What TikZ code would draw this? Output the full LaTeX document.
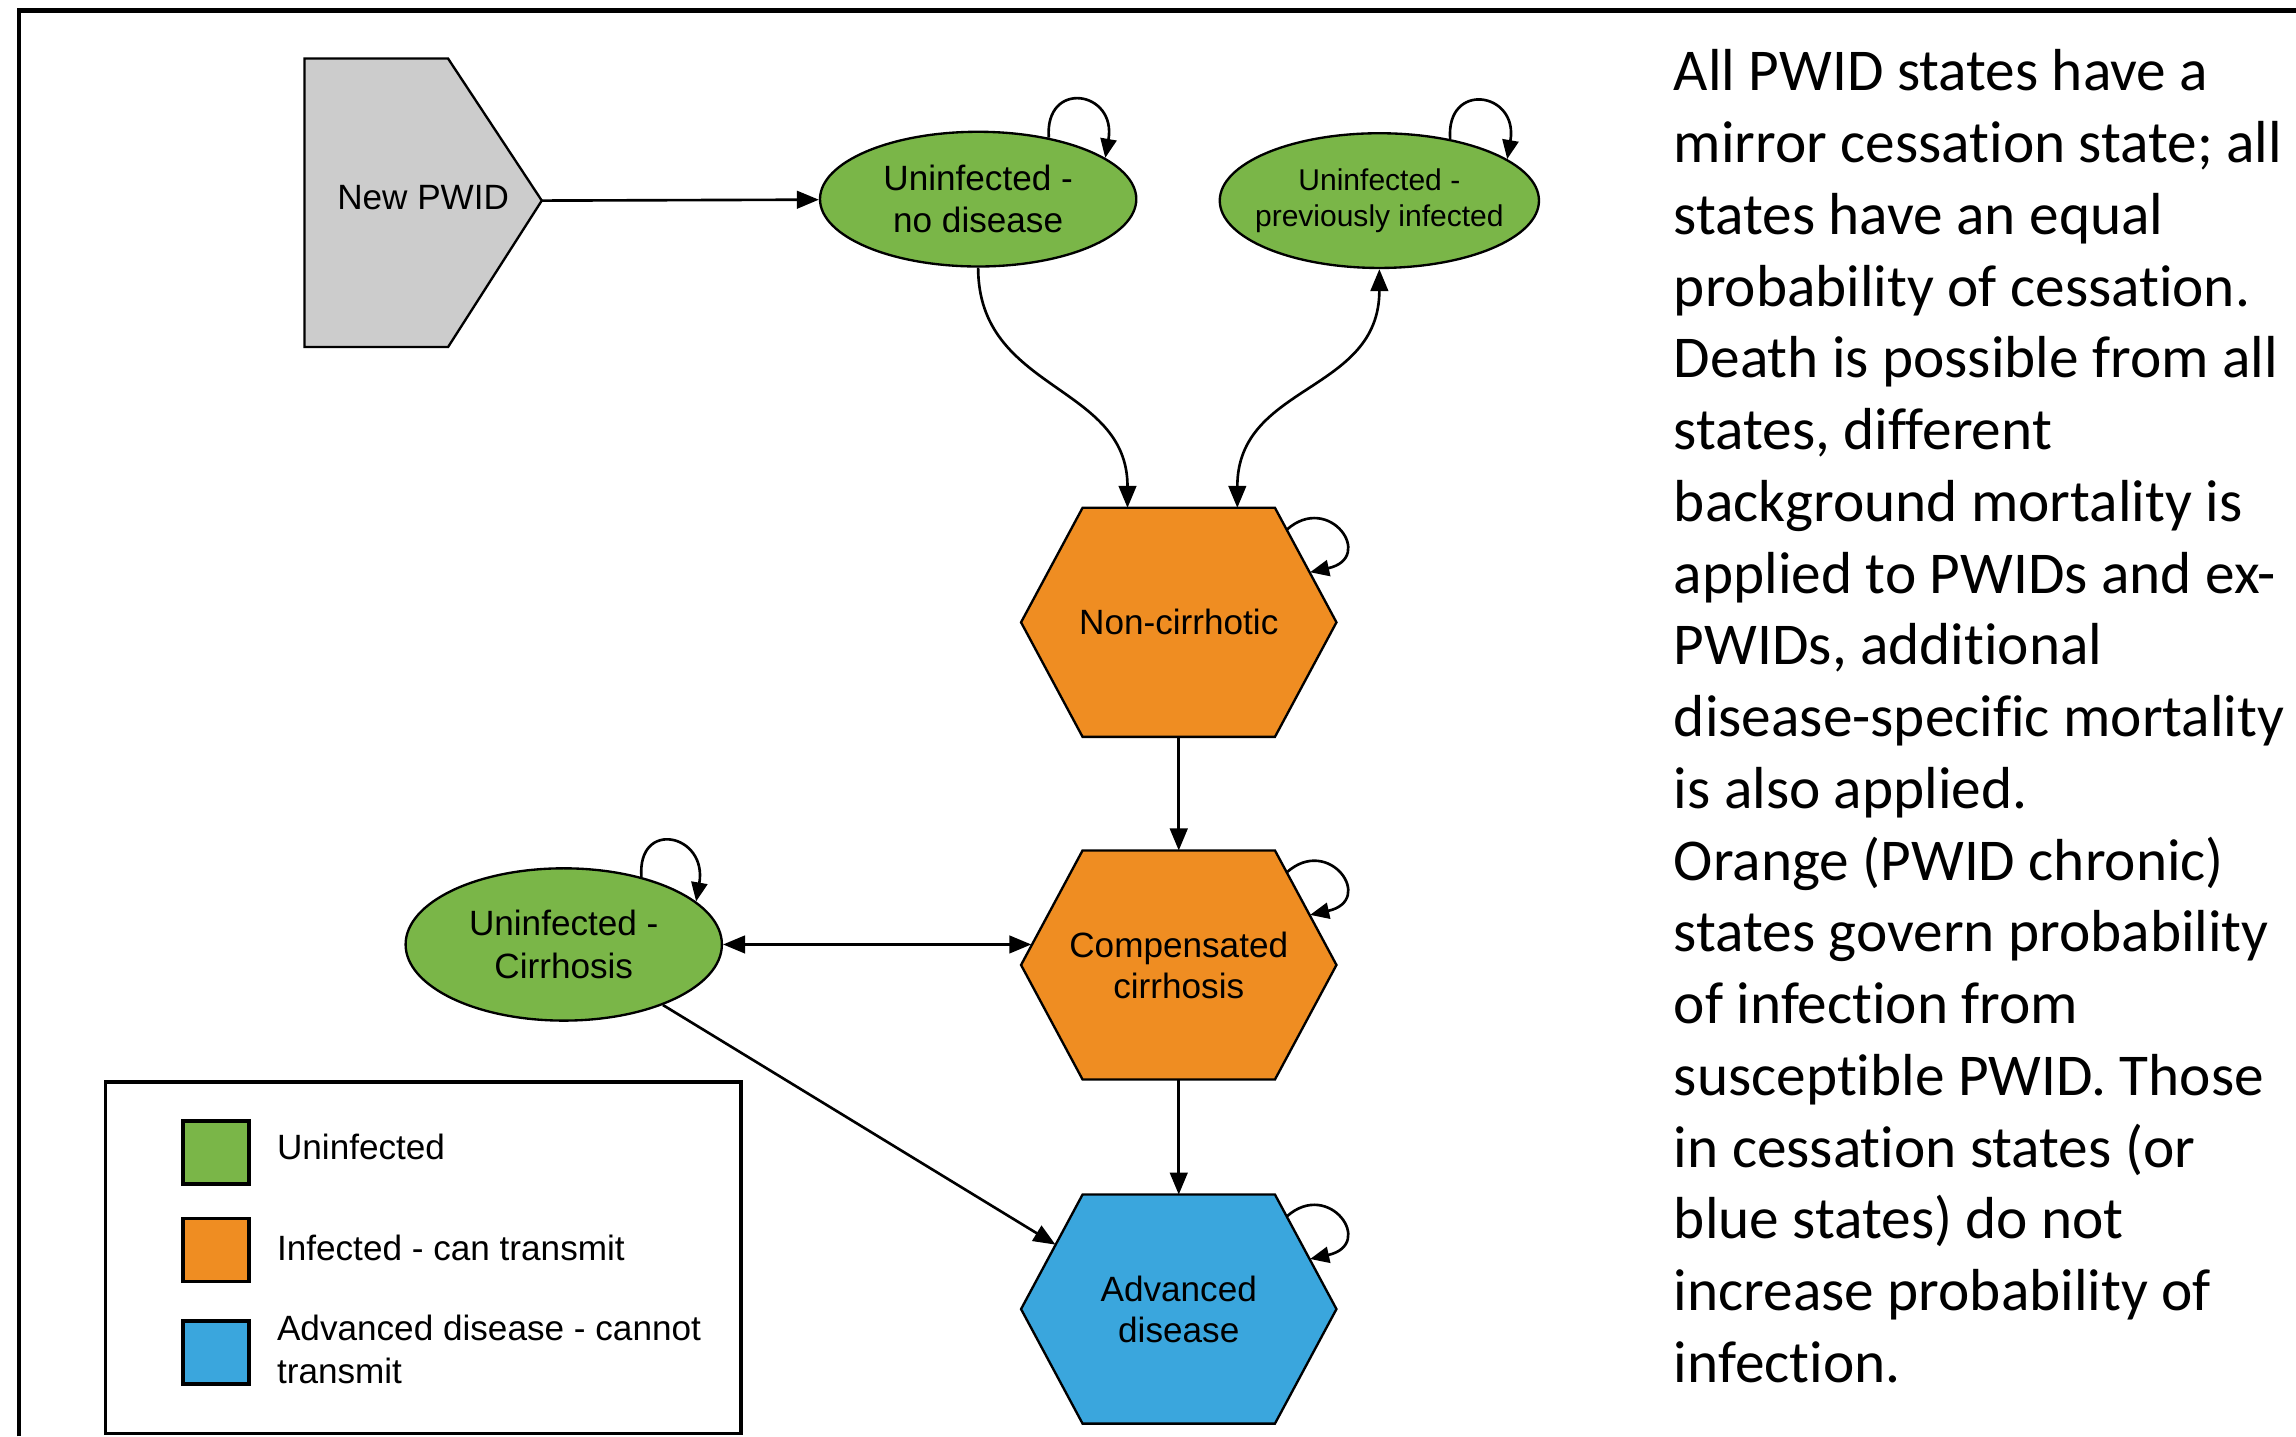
\documentclass[tikz,border=0pt]{standalone}
\usepackage{fontspec}
\setmainfont{Liberation Sans}
\newfontfamily\calfont[RawFeature={-liga}]{Carlito}
\usetikzlibrary{arrows.meta,calc,shapes.geometric}
\definecolor{lgreen}{HTML}{7AB648}
\definecolor{lorange}{HTML}{EF8D22}
\definecolor{lblue}{HTML}{3AA6DD}
\definecolor{lgray}{HTML}{CCCCCC}
\newcommand\hexstate[5]{%
  \node[hexbox] (#1) at (#2,#3) {};
  \filldraw[fill=#4, shapeline] (#1.west) -- ($(#1.north west)+(42,0)$) -- ($(#1.north east)+(-42,0)$) -- (#1.east) -- ($(#1.south east)+(-42,0)$) -- ($(#1.south west)+(42,0)$) -- cycle;
  \node[stext] (#1-t) at (#1) {#5};
}
\newcommand\hexloop[1]{%
  \draw[conn, looptip] ($(#1.north east)+(-34,15)$) .. controls +(29,-26) and +(45,-10) .. ($(#1.north east)+(-18,44)$);
}
\newcommand\elloop[1]{%
  \draw[conn, looptip] (#1.41) .. controls +(-3,-40) and +(8,-46) .. (#1.18);
}
\begin{document}
\begin{tikzpicture}[x=1pt,y=-1pt,
  shapeline/.style={draw=black, line width=1.6pt},
  conn/.style={draw=black, line width=1.8pt},
  maintip/.style={-{Triangle[length=15pt,width=12pt]}},
  bothtip/.style={{Triangle[length=15pt,width=12pt]}-{Triangle[length=15pt,width=12pt]}},
  looptip/.style={-{Triangle[length=13pt,width=11pt]}},
  stext/.style={font=\fontsize{24}{28}\selectfont, align=center, text=black, inner sep=0pt},
  hexbox/.style={rectangle, minimum width=215pt, minimum height=156pt, inner sep=0pt, draw=none},
  estate/.style={ellipse, shapeline, fill=lgreen, inner sep=0pt, align=center, font=\fontsize{24}{29}\selectfont},
  rtext/.style={font=\calfont\fontsize{40.5}{49}\selectfont, inner sep=0pt, anchor=base west},
  legtext/.style={font=\fontsize{24}{29}\selectfont, inner sep=0pt, anchor=west, align=left},
  legsq/.style={draw=black, line width=2.4pt, minimum width=45pt, minimum height=43pt, inner sep=0pt}
]
\useasboundingbox (0,0) rectangle (1568,981);
% frame
\draw[line width=3.2pt] (13,981) -- (13,7) -- (1568,7);

% New PWID
\filldraw[fill=lgray, shapeline] (208,40) -- (306,40) -- (370,137) -- (306,237) -- (208,237) -- cycle;
\node[stext] (np) at (289,135) {New PWID};
\coordinate (nptip) at (370,137);

% ellipses
\node[estate, minimum width=216pt, minimum height=92pt] (e1) at (668,136) {Uninfected -\\no disease};
\node[estate, minimum width=218pt, minimum height=92pt, inner xsep=-10pt, font=\fontsize{20.5}{25}\selectfont] (e2) at (942,137) {Uninfected -\\previously infected};
\node[estate, minimum width=216pt, minimum height=104pt] (ec) at (385,645) {Uninfected -\\Cirrhosis};

% hexagons
\hexstate{nc}{805}{425}{lorange}{Non-cirrhotic}
\hexstate{cc}{805}{659}{lorange}{Compensated\\cirrhosis}
\hexstate{ad}{805}{894}{lblue}{Advanced\\disease}

% connection points on hexagon borders
\coordinate (nctl) at ($(nc.north)+(-35,0)$);
\coordinate (nctr) at ($(nc.north)+(40,0)$);
\coordinate (ccl) at ($(cc.west)+(7,-14)$);
\coordinate (adl) at ($(ad.west)+(23.5,-44)$);

% connectors
\draw[conn, maintip] (nptip) -- (e1);
\draw[conn, maintip] (e1.south) .. controls +(0,85) and +(0,-85) .. (nctl);
\draw[conn, bothtip] (e2.south) .. controls +(0,85) and +(0,-85) .. (nctr);
\draw[conn, maintip] (nc.south) -- (cc.north);
\draw[conn, maintip] (cc.south) -- (ad.north);
\draw[conn, bothtip] (ec.east) -- (ccl);
\draw[conn, maintip] (ec) -- (adl);

% self loops
\elloop{e1}
\elloop{e2}
\elloop{ec}
\hexloop{nc}
\hexloop{cc}
\hexloop{ad}

% legend
\node[draw=black, line width=2.4pt, minimum width=434pt, minimum height=240pt, inner sep=0pt] (leg) at (289,859) {};
\node[legsq, fill=lgreen] (lg1) at (147.5,787) {};
\node[legsq, fill=lorange] (lg2) at (147.5,853.5) {};
\node[legsq, fill=lblue] (lg3) at (147.5,923.5) {};
\node[legtext] (lt1) at (189,783) {Uninfected};
\node[legtext] (lt2) at (189,852) {Infected - can transmit};
\node[legtext] (lt3) at (189,921.5) {Advanced disease - cannot\\transmit};

% right-hand text
\foreach \t [count=\i from 0] in {{All PWID states have a},{mirror cessation state; all},{states have an equal},{probability of cessation.},{Death is possible from all},{states, different},{background mortality is},{applied to PWIDs and ex-},{PWIDs, additional},{disease-specific mortality},{is also applied.},{Orange (PWID chronic)},{states govern probability},{of infection from},{susceptible PWID. Those},{in cessation states (or},{blue states) do not},{increase probability of},{infection.}}
  \node[rtext] (r\i) at (1143,{62+49*\i}) {\t};
\end{tikzpicture}
\end{document}
